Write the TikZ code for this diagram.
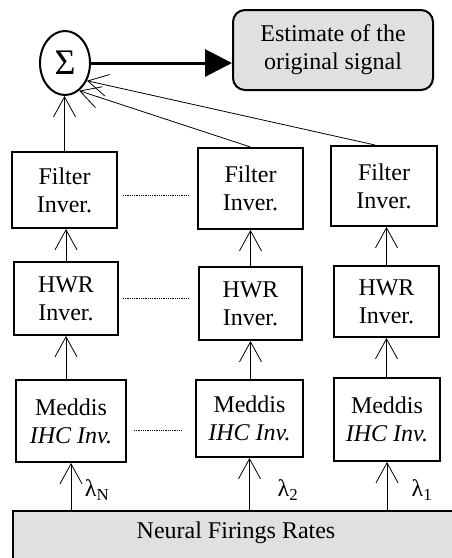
\documentclass[tikz,border=0pt]{standalone}
\usepackage{fontspec}
\setmainfont{Liberation Serif}
\usetikzlibrary{arrows.meta,shapes.geometric}
\definecolor{fillgray}{HTML}{E0E0E0}

\begin{document}
\begin{tikzpicture}[x=1pt, y=-1pt, >={Straight Barb[length=20pt,width=22pt]},
    every node/.style={font=\fontsize{24}{28}\selectfont},
    blk/.style={draw, line width=2pt, align=center, inner sep=2pt},
    conn/.style={line width=0.8pt},
    dotline/.style={densely dotted, line width=0.8pt}]
    \useasboundingbox (0,0) rectangle (452,558);
    \clip (0,0) rectangle (452,558);
    % summation and output
    \node[draw, ellipse, line width=2pt, minimum width=50pt, minimum height=64pt, inner sep=0pt, font=\fontsize{36}{36}\selectfont] (sum) at (65,63) {Σ};
    \node[blk, rounded corners=12pt, fill=fillgray, minimum width=200pt, minimum height=80pt] (est) at (333,50) {Estimate of the\\original signal};
    % filter inversion
    \node[blk, minimum width=105pt, minimum height=76pt] (fl) at (64.5,190) {Filter\\Inver.};
    \node[blk, minimum width=105pt, minimum height=81pt] (fm) at (250.5,188.5) {Filter\\Inver.};
    \node[blk, minimum width=106pt, minimum height=80pt] (fr) at (384,186) {Filter\\Inver.};
    % HWR inversion
    \node[blk, minimum width=104pt, minimum height=73pt] (hl) at (66,298.5) {HWR\\Inver.};
    \node[blk, minimum width=103pt, minimum height=73pt] (hm) at (250.5,303.5) {HWR\\Inver.};
    \node[blk, minimum width=105pt, minimum height=71pt] (hr) at (386.5,301.5) {HWR\\Inver.};
    % Meddis IHC inversion
    \node[blk, minimum width=110pt, minimum height=82pt] (ml) at (71,421) {Meddis\\\textit{IHC Inv.}};
    \node[blk, minimum width=107pt, minimum height=77pt] (mm) at (249.5,418.5) {Meddis\\\textit{IHC Inv.}};
    \node[blk, minimum width=106pt, minimum height=83pt] (mr) at (387,419.5) {Meddis\\\textit{IHC Inv.}};
    % input
    \node[blk, fill=fillgray, anchor=north west, minimum width=446pt, text height=16pt, text depth=22pt, inner ysep=11pt] (rates) at (12,510) {Neural Firings Rates};
    \node (lamN) at (97,490) {λ\textsubscript{N}};
    \node (lam2) at (288,490) {λ\textsubscript{2}};
    \node (lam1) at (422,490) {λ\textsubscript{1}};

    \draw[-{Triangle[length=27pt,width=27pt]}, line width=3pt] (sum.east) -- (sum.east -| est.west);
    \draw[->, conn] (fl.north) -- (fl.north |- sum.south);
    \draw[->, conn] (fm.north) -- (sum.-63);
    \draw[->, conn] ([xshift=-9pt]fr.north) -- (sum.-39);

    \draw[->, conn] (hl.north) -- (hl.north |- fl.south);
    \draw[->, conn] (hm.north) -- (hm.north |- fm.south);
    \draw[->, conn] (hr.north) -- (hr.north |- fr.south);
    \draw[->, conn] (ml.north -| hl.south) -- (hl.south);
    \draw[->, conn] (mm.north -| hm.south) -- (hm.south);
    \draw[->, conn] (mr.north -| hr.south) -- (hr.south);
    \draw[->, conn] (rates.north -| ml.south) -- (ml.south);
    \draw[->, conn] (rates.north -| mm.south) -- (mm.south);
    \draw[->, conn] (rates.north -| mr.south) -- (mr.south);

    \draw[dotline] ([xshift=5pt,yshift=-5pt]fl.east) -- ([xshift=-9pt,yshift=-5pt]fl.east -| fm.west);
    \draw[dotline] ([xshift=4pt]hl.east) -- ([xshift=-10pt]hl.east -| hm.west);
    \draw[dotline] ([xshift=7pt,yshift=-9pt]ml.east) -- ([xshift=-13pt,yshift=-9pt]ml.east -| mm.west);
\end{tikzpicture}
\end{document}
